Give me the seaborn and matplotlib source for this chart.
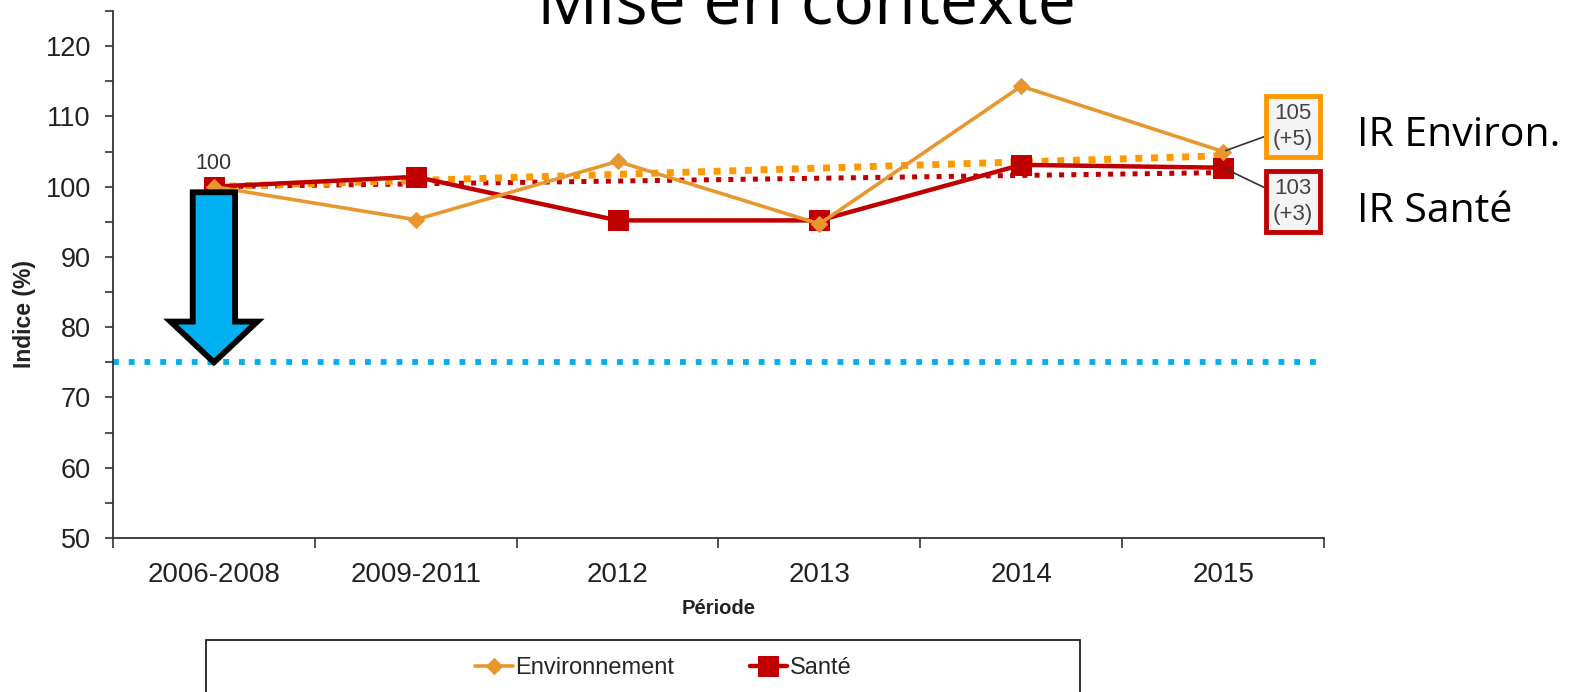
import numpy as np
import pandas as pd
import matplotlib
matplotlib.use('Agg')
import matplotlib.pyplot as plt
from matplotlib.patches import FancyArrow, Rectangle
from matplotlib.ticker import MultipleLocator, FixedLocator
import seaborn as sns

# values
periodes = ['2006-2008', '2009-2011', '2012', '2013', '2014', '2015']
environnement = [100, 95.3, 103.6, 94.7, 114.3, 105.0]
sante = [100, 101.4, 95.2, 95.2, 103.1, 102.7]
tendance_env = [100, 104.4]      # first -> last period
tendance_sante = [100, 102.0]
objectif = 75
labels_fin = ['105\n(+5)', '103\n(+3)']

sns.set_style('ticks')
plt.rcParams['font.family'] = ['Liberation Sans', 'DejaVu Sans']

orange = '#e8962e'
orange_dot = '#ff9900'
rouge = '#c00000'
bleu = '#00b0f0'

x = np.arange(len(periodes))
df = pd.DataFrame({'x': x, 'Environnement': environnement, 'Santé': sante})

fig = plt.figure(figsize=(15.79, 6.92), dpi=100)
ax = fig.add_axes([113 / 1579, 1 - 538 / 692, 1211 / 1579, 527 / 692])

# trend / target dotted lines
ax.axhline(objectif, color=bleu, lw=4.2, linestyle=(0, (1, 1.7)), zorder=1)
sns.lineplot(x=[x[0], x[-1]], y=tendance_sante, ax=ax, color=rouge, lw=3.6,
             linestyle=(0, (1, 1.45)), zorder=3, legend=False)
sns.lineplot(x=[x[0], x[-1]], y=tendance_env, ax=ax, color=orange_dot, lw=5,
             linestyle=(0, (1, 1.25)), zorder=4, legend=False)

# series
sns.lineplot(data=df, x='x', y='Santé', ax=ax, color=rouge, lw=3.2, marker='s',
             markersize=14, markeredgecolor=rouge, label='Santé', zorder=5)
sns.lineplot(data=df, x='x', y='Environnement', ax=ax, color=orange, lw=2.6,
             marker='D', markersize=8.5, markeredgecolor=orange,
             label='Environnement', zorder=6)
handles, labs = ax.get_legend_handles_labels()
ax.get_legend().remove()

# arrow down to the target
arrow = FancyArrow(x[0], 99.2, 0, objectif - 99.2, width=0.21, head_width=0.43,
                   head_length=5.8, length_includes_head=True,
                   facecolor=bleu, edgecolor='black', lw=4.2, zorder=7)
ax.add_patch(arrow)

ax.text(x[0], 101.8, '100', ha='center', va='bottom', fontsize=15.5, color='#333333')

# end labels with boxes
for val, txt, col, ypos in [(environnement[-1], labels_fin[0], orange_dot, 108.6),
                            (sante[-1], labels_fin[1], rouge, 97.9)]:
    ax.annotate(txt, xy=(x[-1], val), xytext=(5.347, ypos), ha='center', va='center',
                fontsize=16, color='#444444', linespacing=1.3,
                bbox=dict(boxstyle='square,pad=0.32', fc='#f4f4f4', ec=col, lw=3.5),
                arrowprops=dict(arrowstyle='-', color='#333333', lw=1.2,
                                shrinkA=0, shrinkB=2),
                annotation_clip=False, zorder=8)

fig.text(1357 / 1579, 1 - 136 / 692, 'IR Environ.', family='Open Sans', fontsize=29.5,
         ha='left', va='center', color='black')
fig.text(1357 / 1579, 1 - 212 / 692, 'IR Santé', family='Open Sans', fontsize=29.5,
         ha='left', va='center', color='black')

# title, cut off at the top like in the slide
fig.text(0.511, 1 - 23 / 692, 'Mise en contexte', family='Open Sans', fontsize=49,
         ha='center', va='baseline', color='black')

# axes
ax.set_xlim(-0.5, len(periodes) - 0.5)
ax.set_ylim(50, 125)
ax.yaxis.set_major_locator(FixedLocator(np.arange(50, 121, 10)))
ax.yaxis.set_minor_locator(MultipleLocator(5))
ax.xaxis.set_major_locator(FixedLocator(np.arange(-0.5, len(periodes), 1)))
ax.xaxis.set_minor_locator(FixedLocator(x))
ax.set_xticklabels([], minor=False)
ax.set_xticklabels(periodes, minor=True)
ax.tick_params(axis='x', which='major', length=7, width=1.2, color='#333333')
ax.tick_params(axis='x', which='minor', length=0, pad=17, labelsize=20, labelcolor='#222222')
ax.tick_params(axis='y', which='both', length=6, width=1.2, color='#333333',
               pad=10, labelsize=19.5, labelcolor='#222222')
sns.despine(ax=ax)
for s in ['left', 'bottom']:
    ax.spines[s].set_color('#333333')
    ax.spines[s].set_linewidth(1.3)

ax.set_xlabel('Période', fontsize=14.5, fontweight='bold', color='#222222', va='center')
ax.set_ylabel('Indice (%)', fontsize=16.5, fontweight='bold', color='#222222', va='center')
ax.xaxis.set_label_coords(0.5, -0.134)
ax.yaxis.set_label_coords(-0.073, 0.425)

# legend box at the bottom
fig.patches.append(Rectangle((206 / 1579, -0.05), 874 / 1579, 0.05 + 1 - 640 / 692,
                             transform=fig.transFigure, fill=False, ec='#222222', lw=1.3))
order = [labs.index('Environnement'), labs.index('Santé')]
fig.legend([handles[i] for i in order], [labs[i] for i in order], loc='center',
           bbox_to_anchor=(0.42, 1 - 668 / 692), ncol=2, frameon=False, fontsize=17,
           handlelength=1.6, handletextpad=0.1, columnspacing=3.2)

fig.savefig('out.png', dpi=100)
